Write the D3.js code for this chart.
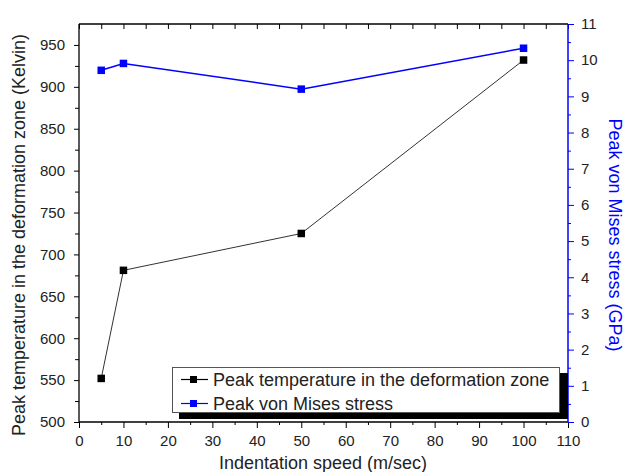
<!DOCTYPE html>
<html><head><meta charset="utf-8">
<script src="https://cdn.jsdelivr.net/npm/d3@7"></script>
<style>body{margin:0;background:#fff}svg{display:block;font-family:"Liberation Sans",Arial,sans-serif}</style>
</head><body>
<svg id="c" width="626" height="472"></svg>
<script>
const speeds = [5, 10, 50, 100];
const peakTemperature = [552, 681, 725, 932];
const peakStress = [9.72, 9.91, 9.2, 10.33];
const xTicks = [0,10,20,30,40,50,60,70,80,90,100,110];
const leftTicks = [500,550,600,650,700,750,800,850,900,950];
const rightTicks = [0,1,2,3,4,5,6,7,8,9,10,11];
const seriesNames = ["Peak temperature in the deformation zone", "Peak von Mises stress"];
const xTitle = "Indentation speed (m/sec)";
const leftTitle = "Peak temperature in the deformation zone (Kelvin)";
const rightTitle = "Peak von Mises stress (GPa)";

const svg = d3.select("#c");
const L = 79, R = 568, T = 24, B = 422;
const BLUE = "#0000ff", TXT = "#222";
const x = d3.scaleLinear().domain([0,110]).range([L,R]);
const yL = d3.scaleLinear().domain([500,975]).range([B,T]);
const yR = d3.scaleLinear().domain([0,11]).range([B,T]);

function styleAxis(g, color, fs){
  g.select(".domain").remove();
  g.selectAll("line").attr("stroke", color).attr("stroke-width",1);
  g.selectAll("text").attr("fill", TXT).attr("font-size", fs);
}
const xMinor = d3.range(5,110,10);
const lMinor = d3.range(525,975,50);
const rMinor = d3.range(0.5,11,1);

svg.append("g").attr("transform",`translate(0,${B})`)
  .call(d3.axisBottom(x).tickValues(xTicks).tickSize(6).tickPadding(7))
  .call(g=>styleAxis(g,"#000",15));
svg.append("g").attr("transform",`translate(0,${B})`)
  .call(d3.axisBottom(x).tickValues(xMinor).tickSize(3).tickFormat(""))
  .call(g=>styleAxis(g,"#000",15));
svg.append("g").attr("transform",`translate(0,${T})`)
  .call(d3.axisBottom(x).tickValues(xTicks.concat(xMinor)).tickSize(5).tickFormat(""))
  .call(g=>styleAxis(g,"#000",15));
svg.append("g").attr("transform",`translate(${L},0)`)
  .call(d3.axisLeft(yL).tickValues(leftTicks).tickSize(5).tickPadding(9))
  .call(g=>styleAxis(g,"#000",15));
svg.append("g").attr("transform",`translate(${L},0)`)
  .call(d3.axisLeft(yL).tickValues(lMinor).tickSize(4).tickFormat(""))
  .call(g=>styleAxis(g,"#000",15));
svg.append("g").attr("transform",`translate(${R},0)`)
  .call(d3.axisRight(yR).tickValues(rightTicks).tickSize(6).tickPadding(7))
  .call(g=>styleAxis(g,BLUE,15));
svg.append("g").attr("transform",`translate(${R},0)`)
  .call(d3.axisRight(yR).tickValues(rMinor).tickSize(3).tickFormat(""))
  .call(g=>styleAxis(g,BLUE,15));

svg.append("line").attr("x1",L).attr("x2",R).attr("y1",T).attr("y2",T).attr("stroke","#000").attr("stroke-width",1.3);
svg.append("line").attr("x1",L).attr("x2",R).attr("y1",B).attr("y2",B).attr("stroke","#000").attr("stroke-width",1.3);
svg.append("line").attr("x1",L).attr("x2",L).attr("y1",T).attr("y2",B).attr("stroke","#000").attr("stroke-width",1.3);
svg.append("line").attr("x1",R).attr("x2",R).attr("y1",T).attr("y2",B).attr("stroke",BLUE).attr("stroke-width",1.5);

const tData = speeds.map((s,i)=>[s,peakTemperature[i]]);
const sData = speeds.map((s,i)=>[s,peakStress[i]]);
svg.append("path").datum(tData)
  .attr("d", d3.line().x(d=>x(d[0])).y(d=>yL(d[1])))
  .attr("fill","none").attr("stroke","#333").attr("stroke-width",1);
svg.append("path").datum(sData)
  .attr("d", d3.line().x(d=>x(d[0])).y(d=>yR(d[1])))
  .attr("fill","none").attr("stroke",BLUE).attr("stroke-width",1.5);
const M = 7.5;
svg.selectAll(".mt").data(tData).enter().append("rect")
  .attr("x",d=>x(d[0])-M/2).attr("y",d=>yL(d[1])-M/2).attr("width",M).attr("height",M).attr("fill","#000");
svg.selectAll(".ms").data(sData).enter().append("rect")
  .attr("x",d=>x(d[0])-M/2).attr("y",d=>yR(d[1])-M/2).attr("width",M).attr("height",M).attr("fill",BLUE);

const lg = svg.append("g");
lg.append("rect").attr("x",179).attr("y",373).attr("width",389).attr("height",46).attr("fill","#000");
lg.append("rect").attr("x",172.5).attr("y",367.5).attr("width",387).attr("height",45).attr("fill","#fff").attr("stroke","#555").attr("stroke-width",1);
const legColors = ["#000", BLUE];
seriesNames.forEach((n,i)=>{
  const cy = 379.5 + i*24;
  lg.append("line").attr("x1",181).attr("x2",208).attr("y1",cy).attr("y2",cy).attr("stroke",legColors[i]).attr("stroke-width",1.2);
  lg.append("rect").attr("x",190).attr("y",cy-3.5).attr("width",7).attr("height",7).attr("fill",legColors[i]);
  lg.append("text").attr("x",213).attr("y",cy+6.5).attr("font-size",18).attr("fill",TXT).text(n);
});

svg.append("text").attr("x",323).attr("y",469).attr("text-anchor","middle").attr("font-size",18).attr("fill",TXT).text(xTitle);
svg.append("text").attr("transform",`translate(25,235) rotate(-90)`).attr("text-anchor","middle").attr("font-size",18).attr("fill",TXT).text(leftTitle);
svg.append("text").attr("transform",`translate(609,235) rotate(90)`).attr("text-anchor","middle").attr("font-size",18).attr("fill",BLUE).text(rightTitle);
</script>
</body></html>
